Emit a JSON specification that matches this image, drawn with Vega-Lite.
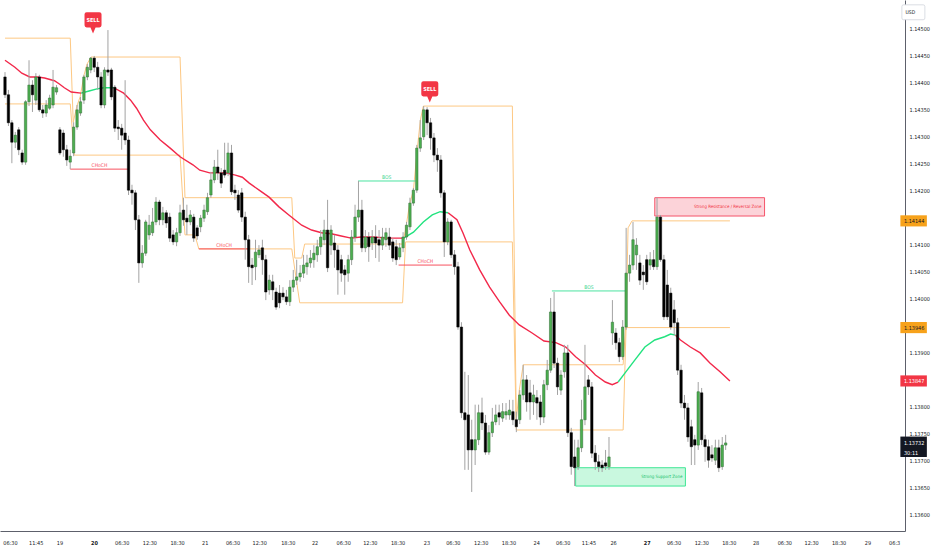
{
  "$schema": "https://vega.github.io/schema/vega-lite/v6.json",
  "width": 905,
  "height": 531,
  "autosize": {"type": "none"},
  "padding": {"left": 0, "top": 0, "right": 27, "bottom": 19},
  "background": "#ffffff",
  "datasets": {
    "candles": [
      {"i":0,"o":1.14411,"h":1.14420,"l":1.14372,"c":1.14378},
      {"i":1,"o":1.14378,"h":1.14387,"l":1.14320,"c":1.14326},
      {"i":2,"o":1.14326,"h":1.14331,"l":1.14251,"c":1.14290},
      {"i":3,"o":1.14290,"h":1.14309,"l":1.14279,"c":1.14303},
      {"i":4,"o":1.14313,"h":1.14318,"l":1.14266,"c":1.14276},
      {"i":5,"o":1.14270,"h":1.14276,"l":1.14248,"c":1.14253},
      {"i":6,"o":1.14253,"h":1.14368,"l":1.14248,"c":1.14365},
      {"i":7,"o":1.14365,"h":1.14442,"l":1.14357,"c":1.14396},
      {"i":8,"o":1.14396,"h":1.14405,"l":1.14346,"c":1.14378},
      {"i":9,"o":1.14368,"h":1.14418,"l":1.14359,"c":1.14411},
      {"i":10,"o":1.14411,"h":1.14415,"l":1.14346,"c":1.14350},
      {"i":11,"o":1.14350,"h":1.14359,"l":1.14335,"c":1.14344},
      {"i":12,"o":1.14344,"h":1.14368,"l":1.14337,"c":1.14359},
      {"i":13,"o":1.14353,"h":1.14378,"l":1.14350,"c":1.14372},
      {"i":14,"o":1.14359,"h":1.14424,"l":1.14353,"c":1.14392},
      {"i":15,"o":1.14383,"h":1.14396,"l":1.14378,"c":1.14391},
      {"i":16,"o":1.14313,"h":1.14318,"l":1.14266,"c":1.14270},
      {"i":17,"o":1.14307,"h":1.14313,"l":1.14263,"c":1.14276},
      {"i":18,"o":1.14276,"h":1.14285,"l":1.14246,"c":1.14257},
      {"i":19,"o":1.14253,"h":1.14276,"l":1.14240,"c":1.14264},
      {"i":20,"o":1.14270,"h":1.14327,"l":1.14264,"c":1.14318},
      {"i":21,"o":1.14318,"h":1.14359,"l":1.14313,"c":1.14350},
      {"i":22,"o":1.14344,"h":1.14374,"l":1.14339,"c":1.14365},
      {"i":23,"o":1.14368,"h":1.14415,"l":1.14361,"c":1.14411},
      {"i":24,"o":1.14411,"h":1.14435,"l":1.14405,"c":1.14429},
      {"i":25,"o":1.14424,"h":1.14448,"l":1.14418,"c":1.14446},
      {"i":26,"o":1.14446,"h":1.14450,"l":1.14420,"c":1.14429},
      {"i":27,"o":1.14429,"h":1.14439,"l":1.14387,"c":1.14411},
      {"i":28,"o":1.14411,"h":1.14420,"l":1.14353,"c":1.14359},
      {"i":29,"o":1.14359,"h":1.14429,"l":1.14353,"c":1.14424},
      {"i":30,"o":1.14424,"h":1.14498,"l":1.14413,"c":1.14420},
      {"i":31,"o":1.14424,"h":1.14428,"l":1.14368,"c":1.14374},
      {"i":32,"o":1.14392,"h":1.14396,"l":1.14309,"c":1.14316},
      {"i":33,"o":1.14318,"h":1.14331,"l":1.14294,"c":1.14315},
      {"i":34,"o":1.14316,"h":1.14324,"l":1.14276,"c":1.14303},
      {"i":35,"o":1.14307,"h":1.14405,"l":1.14285,"c":1.14294},
      {"i":36,"o":1.14294,"h":1.14302,"l":1.14192,"c":1.14201},
      {"i":37,"o":1.14201,"h":1.14211,"l":1.14174,"c":1.14196},
      {"i":38,"o":1.14196,"h":1.14201,"l":1.14127,"c":1.14146},
      {"i":39,"o":1.14146,"h":1.14155,"l":1.14029,"c":1.14066},
      {"i":40,"o":1.14066,"h":1.14099,"l":1.14057,"c":1.14084},
      {"i":41,"o":1.14084,"h":1.14146,"l":1.14079,"c":1.14142},
      {"i":42,"o":1.14118,"h":1.14155,"l":1.14109,"c":1.14136},
      {"i":43,"o":1.14122,"h":1.14168,"l":1.14116,"c":1.14142},
      {"i":44,"o":1.14142,"h":1.14188,"l":1.14136,"c":1.14179},
      {"i":45,"o":1.14179,"h":1.14183,"l":1.14136,"c":1.14146},
      {"i":46,"o":1.14146,"h":1.14170,"l":1.14136,"c":1.14159},
      {"i":47,"o":1.14159,"h":1.14164,"l":1.14131,"c":1.14140},
      {"i":48,"o":1.14151,"h":1.14159,"l":1.14105,"c":1.14112},
      {"i":49,"o":1.14118,"h":1.14127,"l":1.14099,"c":1.14105},
      {"i":50,"o":1.14105,"h":1.14131,"l":1.14097,"c":1.14122},
      {"i":51,"o":1.14122,"h":1.14174,"l":1.14116,"c":1.14159},
      {"i":52,"o":1.14164,"h":1.14187,"l":1.14135,"c":1.14146},
      {"i":53,"o":1.14149,"h":1.14174,"l":1.14118,"c":1.14142},
      {"i":54,"o":1.14142,"h":1.14164,"l":1.14136,"c":1.14155},
      {"i":55,"o":1.14151,"h":1.14157,"l":1.14105,"c":1.14112},
      {"i":56,"o":1.14131,"h":1.14136,"l":1.14109,"c":1.14116},
      {"i":57,"o":1.14133,"h":1.14155,"l":1.14123,"c":1.14149},
      {"i":58,"o":1.14149,"h":1.14174,"l":1.14142,"c":1.14164},
      {"i":59,"o":1.14161,"h":1.14196,"l":1.14155,"c":1.14187},
      {"i":60,"o":1.14192,"h":1.14235,"l":1.14187,"c":1.14220},
      {"i":61,"o":1.14220,"h":1.14257,"l":1.14214,"c":1.14244},
      {"i":62,"o":1.14244,"h":1.14276,"l":1.14220,"c":1.14233},
      {"i":63,"o":1.14233,"h":1.14242,"l":1.14205,"c":1.14214},
      {"i":64,"o":1.14238,"h":1.14289,"l":1.14224,"c":1.14229},
      {"i":65,"o":1.14233,"h":1.14289,"l":1.14227,"c":1.14270},
      {"i":66,"o":1.14270,"h":1.14285,"l":1.14192,"c":1.14198},
      {"i":67,"o":1.14201,"h":1.14211,"l":1.14183,"c":1.14196},
      {"i":68,"o":1.14192,"h":1.14201,"l":1.14159,"c":1.14164},
      {"i":69,"o":1.14196,"h":1.14205,"l":1.14142,"c":1.14151},
      {"i":70,"o":1.14151,"h":1.14161,"l":1.14072,"c":1.14109},
      {"i":71,"o":1.14109,"h":1.14118,"l":1.14029,"c":1.14059},
      {"i":72,"o":1.14062,"h":1.14075,"l":1.14025,"c":1.14057},
      {"i":73,"o":1.14059,"h":1.14109,"l":1.14034,"c":1.14086},
      {"i":74,"o":1.14081,"h":1.14099,"l":1.14075,"c":1.14090},
      {"i":75,"o":1.14094,"h":1.14109,"l":1.14044,"c":1.14072},
      {"i":76,"o":1.14072,"h":1.14081,"l":1.13997,"c":1.14012},
      {"i":77,"o":1.14016,"h":1.14044,"l":1.14007,"c":1.14034},
      {"i":78,"o":1.14031,"h":1.14044,"l":1.13997,"c":1.14016},
      {"i":79,"o":1.14012,"h":1.14020,"l":1.13979,"c":1.13984},
      {"i":80,"o":1.14010,"h":1.14025,"l":1.13982,"c":1.13992},
      {"i":81,"o":1.14010,"h":1.14021,"l":1.13997,"c":1.14003},
      {"i":82,"o":1.14003,"h":1.14016,"l":1.13988,"c":1.13994},
      {"i":83,"o":1.13994,"h":1.14034,"l":1.13986,"c":1.14021},
      {"i":84,"o":1.14021,"h":1.14053,"l":1.14012,"c":1.14034},
      {"i":85,"o":1.14034,"h":1.14072,"l":1.14025,"c":1.14040},
      {"i":86,"o":1.14040,"h":1.14062,"l":1.14031,"c":1.14047},
      {"i":87,"o":1.14047,"h":1.14081,"l":1.14038,"c":1.14062},
      {"i":88,"o":1.14059,"h":1.14081,"l":1.14044,"c":1.14066},
      {"i":89,"o":1.14066,"h":1.14090,"l":1.14057,"c":1.14075},
      {"i":90,"o":1.14072,"h":1.14099,"l":1.14057,"c":1.14084},
      {"i":91,"o":1.14081,"h":1.14109,"l":1.14068,"c":1.14096},
      {"i":92,"o":1.14096,"h":1.14127,"l":1.14081,"c":1.14114},
      {"i":93,"o":1.14109,"h":1.14146,"l":1.14099,"c":1.14127},
      {"i":94,"o":1.14127,"h":1.14183,"l":1.14049,"c":1.14057},
      {"i":95,"o":1.14099,"h":1.14136,"l":1.14081,"c":1.14127},
      {"i":96,"o":1.14103,"h":1.14118,"l":1.14057,"c":1.14090},
      {"i":97,"o":1.14090,"h":1.14099,"l":1.14007,"c":1.14053},
      {"i":98,"o":1.14072,"h":1.14081,"l":1.14031,"c":1.14047},
      {"i":99,"o":1.14053,"h":1.14062,"l":1.14007,"c":1.14044},
      {"i":100,"o":1.14047,"h":1.14081,"l":1.14031,"c":1.14072},
      {"i":101,"o":1.14072,"h":1.14127,"l":1.14062,"c":1.14114},
      {"i":102,"o":1.14114,"h":1.14174,"l":1.14105,"c":1.14151},
      {"i":103,"o":1.14151,"h":1.14218,"l":1.14142,"c":1.14164},
      {"i":104,"o":1.14164,"h":1.14183,"l":1.14086,"c":1.14094},
      {"i":105,"o":1.14094,"h":1.14127,"l":1.14086,"c":1.14114},
      {"i":106,"o":1.14114,"h":1.14123,"l":1.14068,"c":1.14096},
      {"i":107,"o":1.14103,"h":1.14127,"l":1.14090,"c":1.14114},
      {"i":108,"o":1.14114,"h":1.14136,"l":1.14075,"c":1.14103},
      {"i":109,"o":1.14109,"h":1.14127,"l":1.14068,"c":1.14099},
      {"i":110,"o":1.14099,"h":1.14131,"l":1.14090,"c":1.14114},
      {"i":111,"o":1.14109,"h":1.14131,"l":1.14096,"c":1.14122},
      {"i":112,"o":1.14114,"h":1.14131,"l":1.14090,"c":1.14099},
      {"i":113,"o":1.14105,"h":1.14112,"l":1.14068,"c":1.14075},
      {"i":114,"o":1.14096,"h":1.14109,"l":1.14062,"c":1.14072},
      {"i":115,"o":1.14077,"h":1.14103,"l":1.14072,"c":1.14094},
      {"i":116,"o":1.14094,"h":1.14123,"l":1.14086,"c":1.14114},
      {"i":117,"o":1.14114,"h":1.14142,"l":1.14109,"c":1.14136},
      {"i":118,"o":1.14133,"h":1.14187,"l":1.14127,"c":1.14177},
      {"i":119,"o":1.14177,"h":1.14205,"l":1.14172,"c":1.14201},
      {"i":120,"o":1.14201,"h":1.14285,"l":1.14196,"c":1.14279},
      {"i":121,"o":1.14279,"h":1.14331,"l":1.14272,"c":1.14298},
      {"i":122,"o":1.14300,"h":1.14357,"l":1.14294,"c":1.14350},
      {"i":123,"o":1.14350,"h":1.14355,"l":1.14303,"c":1.14326},
      {"i":124,"o":1.14326,"h":1.14335,"l":1.14276,"c":1.14298},
      {"i":125,"o":1.14298,"h":1.14307,"l":1.14253,"c":1.14266},
      {"i":126,"o":1.14266,"h":1.14279,"l":1.14235,"c":1.14257},
      {"i":127,"o":1.14257,"h":1.14266,"l":1.14187,"c":1.14196},
      {"i":128,"o":1.14196,"h":1.14201,"l":1.14077,"c":1.14105},
      {"i":129,"o":1.14105,"h":1.14149,"l":1.14099,"c":1.14142},
      {"i":130,"o":1.14142,"h":1.14146,"l":1.14075,"c":1.14081},
      {"i":131,"o":1.14081,"h":1.14090,"l":1.14044,"c":1.14059},
      {"i":132,"o":1.14059,"h":1.14068,"l":1.13942,"c":1.13947},
      {"i":133,"o":1.13947,"h":1.13956,"l":1.13778,"c":1.13788},
      {"i":134,"o":1.13788,"h":1.13864,"l":1.13682,"c":1.13775},
      {"i":135,"o":1.13784,"h":1.13858,"l":1.13682,"c":1.13719},
      {"i":136,"o":1.13738,"h":1.13775,"l":1.13641,"c":1.13719},
      {"i":137,"o":1.13719,"h":1.13803,"l":1.13691,"c":1.13738},
      {"i":138,"o":1.13738,"h":1.13803,"l":1.13728,"c":1.13788},
      {"i":139,"o":1.13788,"h":1.13816,"l":1.13756,"c":1.13769},
      {"i":140,"o":1.13769,"h":1.13784,"l":1.13710,"c":1.13715},
      {"i":141,"o":1.13715,"h":1.13765,"l":1.13710,"c":1.13751},
      {"i":142,"o":1.13751,"h":1.13797,"l":1.13743,"c":1.13771},
      {"i":143,"o":1.13771,"h":1.13803,"l":1.13765,"c":1.13784},
      {"i":144,"o":1.13788,"h":1.13803,"l":1.13765,"c":1.13780},
      {"i":145,"o":1.13778,"h":1.13806,"l":1.13771,"c":1.13790},
      {"i":146,"o":1.13784,"h":1.13806,"l":1.13775,"c":1.13790},
      {"i":147,"o":1.13784,"h":1.13812,"l":1.13775,"c":1.13793},
      {"i":148,"o":1.13790,"h":1.13812,"l":1.13765,"c":1.13775},
      {"i":149,"o":1.13775,"h":1.13790,"l":1.13752,"c":1.13762},
      {"i":150,"o":1.13775,"h":1.13830,"l":1.13767,"c":1.13821},
      {"i":151,"o":1.13821,"h":1.13877,"l":1.13812,"c":1.13849},
      {"i":152,"o":1.13849,"h":1.13858,"l":1.13790,"c":1.13808},
      {"i":153,"o":1.13825,"h":1.13849,"l":1.13775,"c":1.13808},
      {"i":154,"o":1.13808,"h":1.13840,"l":1.13784,"c":1.13821},
      {"i":155,"o":1.13816,"h":1.13830,"l":1.13775,"c":1.13806},
      {"i":156,"o":1.13808,"h":1.13821,"l":1.13765,"c":1.13780},
      {"i":157,"o":1.13780,"h":1.13849,"l":1.13769,"c":1.13840},
      {"i":158,"o":1.13840,"h":1.13886,"l":1.13830,"c":1.13867},
      {"i":159,"o":1.13867,"h":1.14001,"l":1.13862,"c":1.13975},
      {"i":160,"o":1.13975,"h":1.14012,"l":1.13871,"c":1.13880},
      {"i":161,"o":1.13880,"h":1.13890,"l":1.13821,"c":1.13836},
      {"i":162,"o":1.13830,"h":1.13867,"l":1.13821,"c":1.13858},
      {"i":163,"o":1.13864,"h":1.13914,"l":1.13853,"c":1.13899},
      {"i":164,"o":1.13899,"h":1.13914,"l":1.13743,"c":1.13751},
      {"i":165,"o":1.13751,"h":1.13760,"l":1.13673,"c":1.13688},
      {"i":166,"o":1.13706,"h":1.13738,"l":1.13652,"c":1.13686},
      {"i":167,"o":1.13688,"h":1.13738,"l":1.13682,"c":1.13723},
      {"i":168,"o":1.13723,"h":1.13812,"l":1.13715,"c":1.13775},
      {"i":169,"o":1.13775,"h":1.13914,"l":1.13765,"c":1.13836},
      {"i":170,"o":1.13849,"h":1.13858,"l":1.13821,"c":1.13836},
      {"i":171,"o":1.13836,"h":1.13845,"l":1.13704,"c":1.13713},
      {"i":172,"o":1.13713,"h":1.13728,"l":1.13682,"c":1.13697},
      {"i":173,"o":1.13697,"h":1.13710,"l":1.13678,"c":1.13688},
      {"i":174,"o":1.13691,"h":1.13700,"l":1.13678,"c":1.13686},
      {"i":175,"o":1.13695,"h":1.13719,"l":1.13682,"c":1.13689},
      {"i":176,"o":1.13688,"h":1.13743,"l":1.13682,"c":1.13706},
      {"i":177,"o":1.13936,"h":1.13997,"l":1.13914,"c":1.13956},
      {"i":178,"o":1.13936,"h":1.13945,"l":1.13905,"c":1.13918},
      {"i":179,"o":1.13918,"h":1.13927,"l":1.13882,"c":1.13892},
      {"i":180,"o":1.13892,"h":1.13960,"l":1.13886,"c":1.13947},
      {"i":181,"o":1.13947,"h":1.14131,"l":1.13942,"c":1.14047},
      {"i":182,"o":1.14047,"h":1.14081,"l":1.14031,"c":1.14062},
      {"i":183,"o":1.14062,"h":1.14142,"l":1.14053,"c":1.14109},
      {"i":184,"o":1.14081,"h":1.14112,"l":1.14053,"c":1.14099},
      {"i":185,"o":1.14066,"h":1.14081,"l":1.14025,"c":1.14034},
      {"i":186,"o":1.14049,"h":1.14062,"l":1.14016,"c":1.14044},
      {"i":187,"o":1.14072,"h":1.14081,"l":1.14025,"c":1.14031},
      {"i":188,"o":1.14062,"h":1.14086,"l":1.14053,"c":1.14072},
      {"i":189,"o":1.14072,"h":1.14090,"l":1.14053,"c":1.14059},
      {"i":190,"o":1.14059,"h":1.14187,"l":1.14053,"c":1.14151},
      {"i":191,"o":1.14151,"h":1.14155,"l":1.14068,"c":1.14072},
      {"i":192,"o":1.14072,"h":1.14081,"l":1.13960,"c":1.13966},
      {"i":193,"o":1.14025,"h":1.14053,"l":1.13960,"c":1.13966},
      {"i":194,"o":1.14010,"h":1.14020,"l":1.13942,"c":1.13947},
      {"i":195,"o":1.13979,"h":1.13997,"l":1.13932,"c":1.13955},
      {"i":196,"o":1.13955,"h":1.13964,"l":1.13858,"c":1.13867},
      {"i":197,"o":1.13867,"h":1.13877,"l":1.13797,"c":1.13806},
      {"i":198,"o":1.13806,"h":1.13821,"l":1.13775,"c":1.13797},
      {"i":199,"o":1.13797,"h":1.13806,"l":1.13734,"c":1.13743},
      {"i":200,"o":1.13762,"h":1.13775,"l":1.13691,"c":1.13725},
      {"i":201,"o":1.13738,"h":1.13747,"l":1.13691,"c":1.13728},
      {"i":202,"o":1.13728,"h":1.13845,"l":1.13719,"c":1.13827},
      {"i":203,"o":1.13825,"h":1.13834,"l":1.13728,"c":1.13738},
      {"i":204,"o":1.13738,"h":1.13747,"l":1.13697,"c":1.13725},
      {"i":205,"o":1.13725,"h":1.13738,"l":1.13686,"c":1.13700},
      {"i":206,"o":1.13710,"h":1.13728,"l":1.13697,"c":1.13704},
      {"i":207,"o":1.13700,"h":1.13738,"l":1.13691,"c":1.13723},
      {"i":208,"o":1.13723,"h":1.13738,"l":1.13678,"c":1.13686},
      {"i":209,"o":1.13688,"h":1.13743,"l":1.13682,"c":1.13728},
      {"i":210,"o":1.13728,"h":1.13747,"l":1.13719,"c":1.13732}
    ],
    "ema": [
      {"k":0,"p":1.14442,"seg":"A","trend":"bear"},
      {"k":2.88,"p":1.14429,"seg":"A","trend":"bear"},
      {"k":4.9,"p":1.14418,"seg":"A","trend":"bear"},
      {"k":7.2,"p":1.14411,"seg":"A","trend":"bear"},
      {"k":9.51,"p":1.14411,"seg":"A","trend":"bear"},
      {"k":11.53,"p":1.14409,"seg":"A","trend":"bear"},
      {"k":14.41,"p":1.14404,"seg":"A","trend":"bear"},
      {"k":15.85,"p":1.14398,"seg":"A","trend":"bear"},
      {"k":17.29,"p":1.14391,"seg":"A","trend":"bear"},
      {"k":19.31,"p":1.14383,"seg":"A","trend":"bear"},
      {"k":22.19,"p":1.14381,"seg":"A","trend":"bear"},
      {"k":22.19,"p":1.14381,"seg":"B","trend":"bull"},
      {"k":24.5,"p":1.14385,"seg":"B","trend":"bull"},
      {"k":26.8,"p":1.14389,"seg":"B","trend":"bull"},
      {"k":28.82,"p":1.14391,"seg":"B","trend":"bull"},
      {"k":31.7,"p":1.14391,"seg":"B","trend":"bull"},
      {"k":31.7,"p":1.14391,"seg":"C","trend":"bear"},
      {"k":34.58,"p":1.14381,"seg":"C","trend":"bear"},
      {"k":36.6,"p":1.14368,"seg":"C","trend":"bear"},
      {"k":38.33,"p":1.14353,"seg":"C","trend":"bear"},
      {"k":40.35,"p":1.14331,"seg":"C","trend":"bear"},
      {"k":42.36,"p":1.14313,"seg":"C","trend":"bear"},
      {"k":45.24,"p":1.14294,"seg":"C","trend":"bear"},
      {"k":48.13,"p":1.14279,"seg":"C","trend":"bear"},
      {"k":51.01,"p":1.14263,"seg":"C","trend":"bear"},
      {"k":54.76,"p":1.14248,"seg":"C","trend":"bear"},
      {"k":56.77,"p":1.14238,"seg":"C","trend":"bear"},
      {"k":59.65,"p":1.14233,"seg":"C","trend":"bear"},
      {"k":64.27,"p":1.14233,"seg":"C","trend":"bear"},
      {"k":67.15,"p":1.14229,"seg":"C","trend":"bear"},
      {"k":69.16,"p":1.14225,"seg":"C","trend":"bear"},
      {"k":71.18,"p":1.14214,"seg":"C","trend":"bear"},
      {"k":74.06,"p":1.14201,"seg":"C","trend":"bear"},
      {"k":76.95,"p":1.14188,"seg":"C","trend":"bear"},
      {"k":79.83,"p":1.1417,"seg":"C","trend":"bear"},
      {"k":82.71,"p":1.14155,"seg":"C","trend":"bear"},
      {"k":86.46,"p":1.14136,"seg":"C","trend":"bear"},
      {"k":89.34,"p":1.14127,"seg":"C","trend":"bear"},
      {"k":92.22,"p":1.14122,"seg":"C","trend":"bear"},
      {"k":95.1,"p":1.1412,"seg":"C","trend":"bear"},
      {"k":97.98,"p":1.14116,"seg":"C","trend":"bear"},
      {"k":100.86,"p":1.14112,"seg":"C","trend":"bear"},
      {"k":103.75,"p":1.14114,"seg":"C","trend":"bear"},
      {"k":107.49,"p":1.14114,"seg":"C","trend":"bear"},
      {"k":111.53,"p":1.14112,"seg":"C","trend":"bear"},
      {"k":116.14,"p":1.14112,"seg":"C","trend":"bear"},
      {"k":116.14,"p":1.14112,"seg":"D","trend":"bull"},
      {"k":119.02,"p":1.14123,"seg":"D","trend":"bull"},
      {"k":121.9,"p":1.14142,"seg":"D","trend":"bull"},
      {"k":124.5,"p":1.14155,"seg":"D","trend":"bull"},
      {"k":126.8,"p":1.14161,"seg":"D","trend":"bull"},
      {"k":129.11,"p":1.14159,"seg":"D","trend":"bull"},
      {"k":129.11,"p":1.14159,"seg":"E","trend":"bear"},
      {"k":131.7,"p":1.14146,"seg":"E","trend":"bear"},
      {"k":133.43,"p":1.14122,"seg":"E","trend":"bear"},
      {"k":135.45,"p":1.1409,"seg":"E","trend":"bear"},
      {"k":138.33,"p":1.14053,"seg":"E","trend":"bear"},
      {"k":141.21,"p":1.14021,"seg":"E","trend":"bear"},
      {"k":144.09,"p":1.13994,"seg":"E","trend":"bear"},
      {"k":146.97,"p":1.13969,"seg":"E","trend":"bear"},
      {"k":149.86,"p":1.13951,"seg":"E","trend":"bear"},
      {"k":153.6,"p":1.13936,"seg":"E","trend":"bear"},
      {"k":157.06,"p":1.13921,"seg":"E","trend":"bear"},
      {"k":160.52,"p":1.13918,"seg":"E","trend":"bear"},
      {"k":163.4,"p":1.1391,"seg":"E","trend":"bear"},
      {"k":166.28,"p":1.13892,"seg":"E","trend":"bear"},
      {"k":169.16,"p":1.13877,"seg":"E","trend":"bear"},
      {"k":172.05,"p":1.13858,"seg":"E","trend":"bear"},
      {"k":174.93,"p":1.13845,"seg":"E","trend":"bear"},
      {"k":176.95,"p":1.1384,"seg":"E","trend":"bear"},
      {"k":178.67,"p":1.13845,"seg":"E","trend":"bear"},
      {"k":178.67,"p":1.13845,"seg":"F","trend":"bull"},
      {"k":180.69,"p":1.13862,"seg":"F","trend":"bull"},
      {"k":183.57,"p":1.13886,"seg":"F","trend":"bull"},
      {"k":186.46,"p":1.1391,"seg":"F","trend":"bull"},
      {"k":189.34,"p":1.13923,"seg":"F","trend":"bull"},
      {"k":192.22,"p":1.13929,"seg":"F","trend":"bull"},
      {"k":193.95,"p":1.13934,"seg":"F","trend":"bull"},
      {"k":195.39,"p":1.13932,"seg":"F","trend":"bull"},
      {"k":195.39,"p":1.13932,"seg":"G","trend":"bear"},
      {"k":196.83,"p":1.13923,"seg":"G","trend":"bear"},
      {"k":199.71,"p":1.1391,"seg":"G","trend":"bear"},
      {"k":202.59,"p":1.13899,"seg":"G","trend":"bear"},
      {"k":205.48,"p":1.1388,"seg":"G","trend":"bear"},
      {"k":208.36,"p":1.13864,"seg":"G","trend":"bear"},
      {"k":211.24,"p":1.13847,"seg":"G","trend":"bear"}
    ],
    "bands": [
      {"band":"U","k":0,"p":1.14483},
      {"band":"U","k":19.02,"p":1.14483},
      {"band":"U","k":19.88,"p":1.14327},
      {"band":"U","k":21.04,"p":1.14359},
      {"band":"U","k":21.9,"p":1.14374},
      {"band":"U","k":23.05,"p":1.14415},
      {"band":"U","k":23.92,"p":1.14435},
      {"band":"U","k":25.07,"p":1.14448},
      {"band":"U","k":51.01,"p":1.14448},
      {"band":"U","k":52.45,"p":1.14187},
      {"band":"U","k":83.57,"p":1.14187},
      {"band":"U","k":84.44,"p":1.14075},
      {"band":"U","k":86.46,"p":1.14075},
      {"band":"U","k":87.32,"p":1.14101},
      {"band":"U","k":115.85,"p":1.14101},
      {"band":"U","k":116.71,"p":1.14127},
      {"band":"U","k":117.87,"p":1.14174},
      {"band":"U","k":119.02,"p":1.14201},
      {"band":"U","k":120.17,"p":1.14279},
      {"band":"U","k":121.04,"p":1.14331},
      {"band":"U","k":121.9,"p":1.14357},
      {"band":"U","k":147.84,"p":1.14357},
      {"band":"U","k":148.99,"p":1.13775},
      {"band":"U","k":149.86,"p":1.1383},
      {"band":"U","k":151.01,"p":1.13877},
      {"band":"U","k":180.12,"p":1.13877},
      {"band":"U","k":180.98,"p":1.1396},
      {"band":"U","k":181.56,"p":1.14131},
      {"band":"U","k":182.71,"p":1.14144},
      {"band":"U","k":211.24,"p":1.14144},
      {"band":"L","k":0,"p":1.14361},
      {"band":"L","k":19.02,"p":1.14361},
      {"band":"L","k":20.17,"p":1.14266},
      {"band":"L","k":51.01,"p":1.14266},
      {"band":"L","k":52.45,"p":1.14118},
      {"band":"L","k":55.33,"p":1.14118},
      {"band":"L","k":56.48,"p":1.14092},
      {"band":"L","k":83.57,"p":1.14092},
      {"band":"L","k":85.88,"p":1.13992},
      {"band":"L","k":115.85,"p":1.13992},
      {"band":"L","k":116.71,"p":1.14105},
      {"band":"L","k":147.84,"p":1.14105},
      {"band":"L","k":148.99,"p":1.13756},
      {"band":"L","k":180.12,"p":1.13756},
      {"band":"L","k":180.98,"p":1.13946},
      {"band":"L","k":211.24,"p":1.13946}
    ],
    "structure": [
      {"type":"CHoCH","k1":19.02,"k2":36.02,"p":1.1424},
      {"type":"CHoCH","k1":56.48,"k2":71.18,"p":1.14092},
      {"type":"CHoCH","k1":114.7,"k2":130.26,"p":1.14062},
      {"type":"BOS","k1":102.88,"k2":119.6,"p":1.14218},
      {"type":"BOS","k1":159.37,"k2":180.98,"p":1.14014}
    ],
    "zones": [
      {"name":"Strong Resistance / Reversal Zone","kind":"res","k1":189.34,"k2":221.33,"top":1.14187,"bot":1.14153},
      {"name":"Strong Support Zone","kind":"sup","k1":166.28,"k2":198.27,"top":1.13686,"bot":1.13652}
    ],
    "signals": [
      {"label":"SELL","k":25.65,"p":1.14517},
      {"label":"SELL","k":123.78,"p":1.14389}
    ],
    "tags": [
      {"label":"1.14144","kind":"level","p":1.14144},
      {"label":"1.13946","kind":"level","p":1.13946},
      {"label":"1.13847","kind":"ema","p":1.13847},
      {"label":"1.13732","sub":"30:11","kind":"last","p":1.13732}
    ],
    "unit": [{"label":"USD"}]
  },
  "layer": [
    {
      "data": {"name": "bands"},
      "mark": {"type": "line", "stroke": "#fdc883", "strokeWidth": 1},
      "encoding": {
        "x": {
          "field": "k", "type": "quantitative",
          "scale": {"domain": [0, 260.8], "nice": false, "zero": false},
          "axis": {
            "title": null, "tickCount": 200,
            "values": [1.44,8.93,15.85,25.94,34,42.07,50.14,58.2,66.3,74.06,82.4,90.2,98.56,106.3,114.4,122.8,130.5,138.6,146.7,154.8,162.5,170,177.2,187,194.8,202.9,210.9,218.7,227.1,234.9,242.9,251.3,259.1],
            "labelExpr": "['06:30','11:45','19','20','06:30','12:30','18:30','21','06:30','12:30','18:30','22','06:30','12:30','18:30','23','06:30','12:30','18:30','24','06:30','11:45','26','27','06:30','12:30','18:30','28','06:30','12:30','18:30','29','06:3'][indexof([1.44,8.93,15.85,25.94,34,42.07,50.14,58.2,66.3,74.06,82.4,90.2,98.56,106.3,114.4,122.8,130.5,138.6,146.7,154.8,162.5,170,177.2,187,194.8,202.9,210.9,218.7,227.1,234.9,242.9,251.3,259.1], datum.value)]",
            "grid": false, "ticks": false,
            "domainColor": "#5d606b", "domainWidth": 1,
            "labelColor": "#131722", "labelFontSize": 5.5, "labelPadding": 9,
            "labelFontWeight": {"condition": {"test": "datum.value == 25.94 || datum.value == 187", "value": "bold"}, "value": "normal"}
          }
        },
        "y": {
          "field": "p", "type": "quantitative",
          "scale": {"domain": [1.135686, 1.145538], "nice": false, "zero": false},
          "axis": {
            "title": null, "orient": "right", "tickCount": 200,
            "values": [1.136,1.1365,1.137,1.1375,1.138,1.139,1.14,1.1405,1.141,1.142,1.1425,1.143,1.1435,1.144,1.1445,1.145],
            "format": ".5f", "grid": false, "ticks": false,
            "domainColor": "#5d606b", "domainWidth": 1,
            "labelColor": "#131722", "labelFontSize": 5.5, "labelPadding": 4,
            "labelAlign": "left", "labelBaseline": "middle"
          }
        },
        "detail": {"field": "band"}
      }
    },
    {
      "data": {"name": "zones"},
      "mark": {"type": "rect", "strokeWidth": 1},
      "encoding": {
        "x": {"field": "k1", "type": "quantitative", "axis": {"title": null}},
        "x2": {"field": "k2"},
        "y": {"field": "top", "type": "quantitative", "axis": {"title": null}},
        "y2": {"field": "bot"},
        "fill": {"condition": {"test": "datum.kind == 'res'", "value": "#fcd3d9"}, "value": "#c9f8df"},
        "stroke": {"condition": {"test": "datum.kind == 'res'", "value": "#f5546a"}, "value": "#3fe695"}
      }
    },
    {
      "data": {"name": "zones"},
      "transform": [{"calculate": "(datum.top + datum.bot) / 2", "as": "pm"}],
      "mark": {"type": "text", "align": "right", "baseline": "middle", "dx": -3, "fontSize": 4.4},
      "encoding": {
        "x": {"field": "k2", "type": "quantitative", "axis": {"title": null}},
        "y": {"field": "pm", "type": "quantitative", "axis": {"title": null}},
        "text": {"field": "name"},
        "fill": {"condition": {"test": "datum.kind == 'res'", "value": "#f23645"}, "value": "#19c26b"}
      }
    },
    {
      "data": {"name": "ema"},
      "mark": {"type": "line", "strokeWidth": 1.4},
      "encoding": {
        "x": {"field": "k", "type": "quantitative", "axis": {"title": null}},
        "y": {"field": "p", "type": "quantitative", "axis": {"title": null}},
        "detail": {"field": "seg"},
        "stroke": {"condition": {"test": "datum.trend == 'bull'", "value": "#22e37f"}, "value": "#f2284a"}
      }
    },
    {
      "data": {"name": "structure"},
      "mark": {"type": "rule", "strokeWidth": 1},
      "encoding": {
        "x": {"field": "k1", "type": "quantitative", "axis": {"title": null}},
        "x2": {"field": "k2"},
        "y": {"field": "p", "type": "quantitative", "axis": {"title": null}},
        "stroke": {"condition": {"test": "datum.type == 'BOS'", "value": "#4be3a0"}, "value": "#f7525f"}
      }
    },
    {
      "data": {"name": "structure"},
      "transform": [{"calculate": "(datum.k1 + datum.k2) / 2", "as": "km"}],
      "mark": {"type": "text", "align": "center", "baseline": "bottom", "dy": -1, "fontSize": 5},
      "encoding": {
        "x": {"field": "km", "type": "quantitative", "axis": {"title": null}},
        "y": {"field": "p", "type": "quantitative", "axis": {"title": null}},
        "text": {"field": "type"},
        "fill": {"condition": {"test": "datum.type == 'BOS'", "value": "#3fd692"}, "value": "#f7525f"}
      }
    },
    {
      "data": {"name": "candles"},
      "mark": {"type": "rule", "stroke": "#a3a3a3", "strokeWidth": 1},
      "encoding": {
        "x": {"field": "i", "type": "quantitative", "axis": {"title": null}},
        "y": {"field": "l", "type": "quantitative", "axis": {"title": null}},
        "y2": {"field": "h"}
      }
    },
    {
      "data": {"name": "candles"},
      "mark": {"type": "bar", "width": 2.4, "strokeWidth": 0.5},
      "encoding": {
        "x": {"field": "i", "type": "quantitative", "axis": {"title": null}},
        "y": {"field": "o", "type": "quantitative", "axis": {"title": null}},
        "y2": {"field": "c"},
        "fill": {"condition": {"test": "datum.c >= datum.o", "value": "#4caf50"}, "value": "#000000"},
        "stroke": {"condition": {"test": "datum.c >= datum.o", "value": "#2e6b32"}, "value": "#000000"}
      }
    },
    {
      "data": {"name": "signals"},
      "mark": {
        "type": "point", "filled": true, "fill": "#f23645", "opacity": 1, "size": 289, "strokeWidth": 0,
        "shape": "M-0.75,-0.9 L0.75,-0.9 Q1,-0.9 1,-0.65 L1,0.65 Q1,0.9 0.75,0.9 L0.3,0.9 L0,1.6 L-0.3,0.9 L-0.75,0.9 Q-1,0.9 -1,0.65 L-1,-0.65 Q-1,-0.9 -0.75,-0.9 Z"
      },
      "encoding": {
        "x": {"field": "k", "type": "quantitative", "axis": {"title": null}},
        "y": {"field": "p", "type": "quantitative", "axis": {"title": null}}
      }
    },
    {
      "data": {"name": "signals"},
      "mark": {"type": "text", "fill": "#ffffff", "fontSize": 5.5, "fontWeight": "bold", "align": "center", "baseline": "middle"},
      "encoding": {
        "x": {"field": "k", "type": "quantitative", "axis": {"title": null}},
        "y": {"field": "p", "type": "quantitative", "axis": {"title": null}},
        "text": {"field": "label"}
      }
    },
    {
      "data": {"name": "tags"},
      "transform": [{"filter": "datum.kind != 'last'"}],
      "mark": {
        "type": "point", "filled": true, "opacity": 1, "size": 702, "strokeWidth": 0,
        "shape": "M-1,-0.42 L1,-0.42 L1,0.42 L-1,0.42 Z"
      },
      "encoding": {
        "x": {"datum": 264.77, "type": "quantitative", "axis": {"title": null}},
        "y": {"field": "p", "type": "quantitative", "axis": {"title": null}},
        "fill": {"condition": {"test": "datum.kind == 'level'", "value": "#f7a21b"}, "value": "#f23645"}
      }
    },
    {
      "data": {"name": "tags"},
      "transform": [{"filter": "datum.kind == 'last'"}],
      "mark": {
        "type": "point", "filled": true, "opacity": 1, "size": 702, "strokeWidth": 0, "fill": "#131722",
        "shape": "M-1,-0.48 L1,-0.48 L1,1.06 L-1,1.06 Z"
      },
      "encoding": {
        "x": {"datum": 264.77, "type": "quantitative", "axis": {"title": null}},
        "y": {"field": "p", "type": "quantitative", "axis": {"title": null}}
      }
    },
    {
      "data": {"name": "tags"},
      "mark": {"type": "text", "align": "left", "baseline": "middle", "fontSize": 5.5},
      "encoding": {
        "x": {"datum": 261.95, "type": "quantitative", "axis": {"title": null}},
        "y": {"field": "p", "type": "quantitative", "axis": {"title": null}},
        "text": {"field": "label"},
        "fill": {"condition": {"test": "datum.kind == 'level'", "value": "#131722"}, "value": "#ffffff"}
      }
    },
    {
      "data": {"name": "tags"},
      "transform": [{"filter": "datum.kind == 'last'"}],
      "mark": {"type": "text", "align": "left", "baseline": "middle", "fontSize": 5.5, "dy": 10, "fill": "#ffffff"},
      "encoding": {
        "x": {"datum": 261.95, "type": "quantitative", "axis": {"title": null}},
        "y": {"field": "p", "type": "quantitative", "axis": {"title": null}},
        "text": {"field": "sub"}
      }
    },
    {
      "data": {"name": "unit"},
      "mark": {
        "type": "point", "filled": false, "opacity": 1, "size": 529, "stroke": "#d1d4dc", "strokeWidth": 0.8, "fill": "#ffffff",
        "shape": "M-0.85,-0.65 L0.85,-0.65 Q1,-0.65 1,-0.5 L1,0.5 Q1,0.65 0.85,0.65 L-0.85,0.65 Q-1,0.65 -1,0.5 L-1,-0.5 Q-1,-0.65 -0.85,-0.65 Z"
      },
      "encoding": {
        "x": {"datum": 264.7, "type": "quantitative", "axis": {"title": null}},
        "y": {"datum": 1.14531, "type": "quantitative", "axis": {"title": null}}
      }
    },
    {
      "data": {"name": "unit"},
      "mark": {"type": "text", "align": "left", "baseline": "middle", "fontSize": 5, "fill": "#131722"},
      "encoding": {
        "x": {"datum": 262.4, "type": "quantitative", "axis": {"title": null}},
        "y": {"datum": 1.14531, "type": "quantitative", "axis": {"title": null}},
        "text": {"field": "label"}
      }
    }
  ],
  "config": {
    "view": {"stroke": null},
    "font": "Liberation Sans Narrow, DejaVu Sans Condensed, Liberation Sans, sans-serif",
    "axis": {"labelOverlap": false, "labelFlush": false, "labelBound": false}
  }
}
